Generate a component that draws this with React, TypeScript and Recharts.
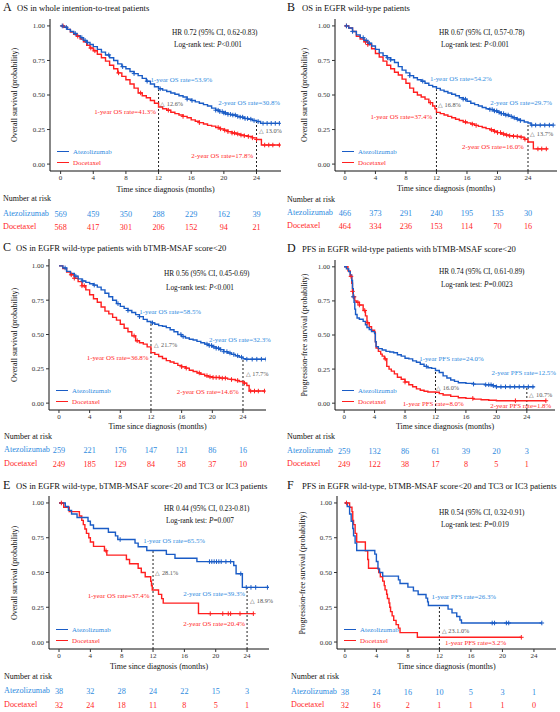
import React from 'react';
import { ComposedChart, Line, Scatter, XAxis, YAxis, ReferenceLine, ReferenceDot } from 'recharts';

const FONT = '"Liberation Serif", "Times New Roman", serif';
const BLUE = '#1a5cc6';
const BLUE_TXT = '#2f8be0';
const RED = '#ff1f1f';
const GREY = '#555555';

const MONTH_TICKS = [0, 4, 8, 12, 16, 20, 24];
const SURV_TICKS = [0, 0.25, 0.5, 0.75, 1];
const ARMS = ['Atezolizumab', 'Docetaxel'];

type Pt = [number, number];

// ---- A: OS, ITT
const atezoA: Pt[] = [[0,1],[0.4,0.99],[0.8,0.975],[1.2,0.96],[1.6,0.945],[2,0.93],[2.4,0.915],[2.8,0.895],[3.2,0.88],[3.6,0.865],[4,0.85],[4.5,0.83],[5,0.81],[5.5,0.79],[6,0.77],[6.5,0.75],[7,0.725],[7.5,0.705],[8,0.69],[8.5,0.67],[9,0.655],[9.5,0.64],[10,0.62],[10.5,0.6],[11,0.58],[11.5,0.56],[12,0.545],[12.5,0.535],[13,0.525],[13.5,0.515],[14,0.505],[14.5,0.495],[15,0.485],[15.5,0.47],[16,0.46],[16.5,0.45],[17,0.44],[17.5,0.43],[18,0.42],[18.5,0.405],[19,0.39],[19.5,0.38],[20,0.37],[20.5,0.36],[21,0.355],[21.5,0.345],[22,0.34],[22.5,0.33],[23,0.325],[23.5,0.315],[24,0.308],[24.5,0.295],[26.8,0.295]];
const doceA: Pt[] = [[0,1],[0.4,0.99],[0.8,0.975],[1.2,0.955],[1.6,0.94],[2,0.925],[2.4,0.905],[2.8,0.885],[3.2,0.86],[3.6,0.84],[4,0.82],[4.5,0.795],[5,0.77],[5.5,0.745],[6,0.715],[6.5,0.69],[7,0.66],[7.5,0.635],[8,0.61],[8.5,0.58],[9,0.55],[9.5,0.515],[10,0.495],[10.5,0.48],[11,0.46],[11.5,0.44],[12,0.413],[12.5,0.4],[13,0.39],[13.5,0.375],[14,0.365],[14.5,0.355],[15,0.345],[15.5,0.335],[16,0.32],[16.5,0.31],[17,0.3],[17.5,0.29],[18,0.28],[18.5,0.275],[19,0.265],[19.5,0.255],[20,0.245],[20.5,0.235],[21,0.225],[21.5,0.218],[22,0.21],[22.5,0.205],[23,0.2],[23.5,0.19],[24,0.178],[24.6,0.138],[26.9,0.138]];
const atezoCensA = [0.2,0.7,1.8,2.6,3,3.3,5.9,7.6,9,10.6,12.2,15.5,16.1,19,19.3,19.5,19.8,20,20.2,20.5,20.8,21.1,21.4,21.7,22,22.3,22.6,22.9,23.3,23.7,24.2,24.8,25.3,25.8,26.3,26.8];
const doceCensA = [0.3,2.1,3.7,4.2,7.1,9.8,13.2,15,17,19.3,19.6,20.1,20.5,21,21.3,21.7,22.1,22.5,23,23.5,24,25,25.5,26,26.8];
const riskAtezoA = [569, 459, 350, 288, 229, 162, 39];
const riskDoceA = [568, 417, 301, 206, 152, 94, 21];

// ---- B: OS, EGFR wild-type
const atezoB: Pt[] = [[0,1],[0.5,0.985],[1,0.96],[1.5,0.935],[2,0.915],[2.5,0.895],[3,0.875],[3.5,0.855],[4,0.83],[4.5,0.805],[5,0.785],[5.5,0.77],[6,0.755],[6.5,0.735],[7,0.705],[7.5,0.68],[8,0.66],[8.5,0.64],[9,0.625],[9.5,0.61],[10,0.6],[10.5,0.585],[11,0.57],[11.5,0.56],[12,0.548],[12.5,0.535],[13,0.525],[13.5,0.515],[14,0.505],[14.5,0.495],[15,0.48],[15.5,0.47],[16,0.455],[16.5,0.44],[17,0.43],[17.5,0.42],[18,0.41],[18.5,0.4],[19,0.395],[19.5,0.385],[20,0.375],[20.5,0.365],[21,0.355],[21.5,0.345],[22,0.335],[22.5,0.325],[23,0.315],[23.5,0.305],[24,0.297],[24.4,0.282],[27.3,0.282]];
const doceB: Pt[] = [[0,1],[0.5,0.985],[1,0.96],[1.5,0.925],[2,0.905],[2.5,0.885],[3,0.865],[3.5,0.835],[4,0.8],[4.5,0.775],[5,0.745],[5.5,0.715],[6,0.69],[6.5,0.665],[7,0.645],[7.5,0.615],[8,0.585],[8.5,0.55],[9,0.52],[9.5,0.5],[10,0.485],[10.5,0.47],[11,0.445],[11.5,0.42],[11.8,0.4],[12,0.374],[12.5,0.365],[13,0.355],[13.5,0.345],[14,0.335],[14.5,0.325],[15,0.315],[15.5,0.305],[16,0.298],[16.5,0.29],[17,0.28],[17.5,0.273],[18,0.265],[18.5,0.257],[19,0.248],[19.5,0.238],[20,0.228],[20.5,0.218],[21,0.21],[21.5,0.205],[22,0.202],[22.5,0.2],[23,0.195],[23.5,0.18],[24,0.16],[24.7,0.11],[26.6,0.11]];
const atezoCensB = [0.2,1,2.4,2.8,3.2,5.6,6,8.5,10.2,15.5,15.8,19,19.3,19.6,19.9,20.2,20.5,20.8,21.1,21.4,21.8,22.2,22.6,23,24.5,25,25.6,26.2,26.8,27.3];
const doceCensB = [0.2,2.7,3,11.2,15.8,16.7,17.2,19.2,19.6,20,20.4,20.8,21.2,21.6,22.1,22.6,23.1,23.6,25.3,25.8,26.4];
const riskAtezoB = [466, 373, 291, 240, 195, 135, 30];
const riskDoceB = [464, 334, 236, 153, 114, 70, 16];

// ---- C: OS, EGFR wild-type, bTMB-MSAF<20
const atezoC: Pt[] = [[0,1],[0.5,0.985],[1,0.96],[1.5,0.945],[2,0.925],[2.5,0.905],[3,0.89],[3.5,0.88],[4,0.87],[4.5,0.86],[5,0.845],[5.5,0.825],[6,0.8],[6.5,0.775],[7,0.75],[7.5,0.725],[8,0.705],[8.5,0.69],[9,0.675],[9.5,0.66],[10,0.645],[10.5,0.63],[11,0.61],[11.5,0.595],[12,0.585],[12.5,0.575],[13,0.565],[13.5,0.56],[14,0.55],[14.5,0.535],[15,0.52],[15.5,0.5],[16,0.485],[16.5,0.475],[17,0.465],[17.5,0.46],[18,0.45],[18.5,0.44],[19,0.43],[19.5,0.42],[20,0.41],[20.5,0.4],[21,0.39],[21.5,0.375],[22,0.365],[22.5,0.355],[23,0.345],[23.5,0.335],[24,0.323],[24.3,0.32],[27,0.32]];
const doceC: Pt[] = [[0,1],[0.5,0.98],[1,0.955],[1.5,0.935],[2,0.91],[2.5,0.885],[3,0.855],[3.5,0.825],[4,0.79],[4.5,0.76],[5,0.735],[5.5,0.7],[6,0.67],[6.5,0.65],[7,0.625],[7.5,0.605],[8,0.575],[8.5,0.545],[9,0.52],[9.5,0.49],[10,0.455],[10.5,0.44],[11,0.43],[11.5,0.41],[12,0.368],[12.5,0.355],[13,0.34],[13.5,0.325],[14,0.31],[14.5,0.3],[15,0.29],[15.5,0.275],[16,0.265],[16.5,0.255],[17,0.24],[17.5,0.23],[18,0.22],[18.5,0.21],[19,0.2],[19.5,0.192],[20,0.187],[21,0.182],[22,0.175],[22.5,0.172],[23,0.165],[23.5,0.158],[24,0.146],[24.5,0.128],[24.8,0.088],[26.8,0.088]];
const atezoCensC = [0.8,2.2,3.1,4.6,7.7,9,10.5,12.2,15.9,16.2,19.3,19.6,19.9,20.2,20.5,20.8,21.1,21.5,21.9,22.3,22.8,23.3,23.8,24.5,25.2,25.8,26.4,27];
const doceCensC = [1.6,2,3,3.3,9.8,10.2,16,16.6,18.3,19.3,19.7,20.1,20.5,20.9,21.3,21.7,22.5,23.3,24.2,25,25.5,26,26.8];
const riskAtezoC = [259, 221, 176, 147, 121, 86, 16];
const riskDoceC = [249, 185, 129, 84, 58, 37, 10];

// ---- D: PFS, EGFR wild-type, bTMB-MSAF<20
const atezoD: Pt[] = [[0,1],[0.3,0.985],[0.6,0.965],[0.8,0.94],[1,0.9],[1.1,0.84],[1.2,0.78],[1.3,0.74],[1.4,0.69],[1.5,0.65],[1.7,0.625],[2,0.615],[2.5,0.6],[2.8,0.575],[3,0.555],[3.3,0.54],[3.6,0.525],[4,0.51],[4.1,0.45],[4.2,0.415],[4.5,0.4],[5,0.39],[5.5,0.38],[6,0.375],[6.5,0.37],[7,0.355],[7.5,0.345],[8,0.33],[8.5,0.325],[9,0.31],[9.5,0.3],[10,0.285],[10.5,0.27],[11,0.26],[11.5,0.255],[12,0.24],[12.5,0.225],[13,0.2],[13.5,0.185],[14,0.17],[14.5,0.16],[15,0.15],[16,0.145],[17,0.14],[18.5,0.135],[19.5,0.128],[20,0.12],[25,0.12]];
const doceD: Pt[] = [[0,1],[0.5,0.97],[0.8,0.93],[1,0.88],[1.1,0.82],[1.2,0.78],[1.4,0.75],[1.6,0.74],[2,0.72],[2.5,0.68],[2.8,0.64],[3,0.59],[3.3,0.56],[3.6,0.535],[4,0.52],[4.1,0.45],[4.2,0.405],[4.5,0.38],[4.8,0.36],[5,0.345],[5.3,0.325],[5.6,0.27],[5.9,0.25],[6.2,0.235],[6.6,0.215],[7,0.19],[7.5,0.175],[8,0.155],[8.5,0.135],[9,0.12],[9.5,0.105],[10,0.095],[10.5,0.087],[11,0.082],[12,0.08],[12.5,0.07],[13,0.06],[14,0.05],[15,0.04],[16,0.035],[17,0.03],[18,0.025],[19,0.022],[20,0.018],[26.5,0.018]];
const atezoCensD = [1.2,10.8,17,18.6,19,19.3,19.6,20,20.6,21.2,21.8,22.4,23,23.6,24.2,24.8];
const doceCensD = [0.9,1.1,1.3,1.8,2,2.7,3.1,5.4,8,16.9,22.5,26.5];
const riskAtezoD = [259, 132, 86, 61, 39, 20, 3];
const riskDoceD = [249, 122, 38, 17, 8, 5, 1];

// ---- E: OS, EGFR wt, bTMB-MSAF<20, TC3/IC3
const atezoE: Pt[] = [[0,1],[0.8,0.974],[1.2,0.947],[1.6,0.921],[2.3,0.895],[3.7,0.868],[4,0.842],[4.4,0.816],[6.3,0.789],[7.2,0.763],[7.5,0.737],[9.7,0.711],[10.1,0.685],[11.2,0.658],[13.7,0.63],[14.8,0.602],[17.6,0.578],[22.3,0.55],[22.6,0.491],[23.4,0.393],[26.8,0.393]];
const doceE: Pt[] = [[0,1],[0.6,0.969],[1.3,0.938],[2.6,0.906],[2.9,0.875],[3.1,0.844],[3.3,0.813],[3.5,0.781],[3.8,0.75],[4,0.719],[4.4,0.688],[5.8,0.656],[6.1,0.625],[8.6,0.594],[9,0.563],[10.1,0.531],[10.5,0.5],[11,0.469],[11.7,0.437],[11.8,0.405],[11.9,0.374],[12.7,0.343],[13.1,0.312],[13.3,0.28],[17.8,0.204],[24.8,0.204]];
const atezoCensE = [7.8,19.2,19.5,19.8,20.1,20.4,20.7,21.3,21.9,23.2,23.9,24.5,25.1,26.6];
const doceCensE = [0.3,6,19.3,20.9,21.6,21.9,23.1,24.8];
const riskAtezoE = [38, 32, 28, 24, 22, 15, 3];
const riskDoceE = [32, 24, 18, 11, 8, 5, 1];

// ---- F: PFS, EGFR wt, bTMB-MSAF<20, TC3/IC3
const atezoF: Pt[] = [[0,1],[0.3,0.974],[0.6,0.921],[0.8,0.868],[1,0.816],[1.1,0.763],[1.3,0.711],[1.5,0.658],[3.8,0.632],[4,0.579],[4.2,0.526],[4.4,0.5],[4.8,0.474],[6.8,0.447],[7,0.421],[8,0.395],[8.7,0.368],[9.3,0.342],[10.3,0.316],[10.5,0.289],[10.6,0.263],[13.1,0.237],[13.6,0.21],[14.2,0.184],[14.6,0.158],[14.8,0.137],[25,0.137]];
const doceF: Pt[] = [[0,1],[0.6,0.969],[0.9,0.938],[1,0.875],[1.1,0.844],[1.3,0.781],[1.5,0.719],[2.6,0.656],[2.9,0.594],[3,0.531],[4.3,0.5],[4.5,0.469],[4.8,0.438],[5,0.406],[5.1,0.375],[5.3,0.344],[5.4,0.313],[5.6,0.281],[5.7,0.25],[5.8,0.219],[6,0.188],[6.2,0.156],[6.5,0.125],[6.8,0.1],[7,0.068],[9.2,0.034],[22.4,0.034]];
const atezoCensF = [18.7,19,20.5,20.8,25];
const doceCensF = [0.2,22.4];
const riskAtezoF = [38, 24, 16, 10, 5, 3, 1];
const riskDoceF = [32, 16, 2, 1, 1, 1, 0];

const toPts = (a: Pt[]) => a.map(([t, s]) => ({ t, s }));
// value of a step curve at time t (last step at or before t)
const stepAt = (a: Pt[], t: number) => {
  let s = a[0][1];
  for (const [ti, si] of a) if (ti <= t) s = si;
  return s;
};
const cens = (a: Pt[], times: number[]) => times.map((t) => ({ t, s: stepAt(a, t) }));

type Note = { x: number; y: number; text: string; color: string; start?: boolean };

const OS_Y = 'Overall survival (probability)';
const PFS_Y = 'Progression-free survival (probability)';

const panels = [
  {
    letter: 'A', title: 'OS in whole intention-to-treat patients', yTitle: OS_Y,
    hr: 'HR 0.72 (95% CI, 0.62-0.83)', p: '<0.001',
    atezo: atezoA, doce: doceA, atezoCens: atezoCensA, doceCens: doceCensA, riskA: riskAtezoA, riskD: riskDoceA,
    lines: [[12, 0.539], [24, 0.308]],
    notes: [
      { x: 14.8, y: 0.615, text: '1-year OS rate=53.9%', color: BLUE_TXT },
      { x: 7.9, y: 0.38, text: '1-year OS rate=41.3%', color: RED },
      { x: 12.2, y: 0.44, text: '\u25B3 12.6%', color: GREY, start: true },
      { x: 23.1, y: 0.445, text: '2-year OS rate=30.8%', color: BLUE_TXT },
      { x: 24.3, y: 0.242, text: '\u25B3 13.0%', color: GREY, start: true },
      { x: 19.8, y: 0.06, text: '2-year OS rate=17.8%', color: RED },
    ] as Note[],
    cx: 0, cw: 290, axisX: 50, plotRight: 281, plotTop: 19, plotBottom: 171, xMin: -1.3, xMax: 27,
    titleY: 7, letterX: 3, titleX: 17, hrX: 172, hrY: 33, lrY: 45, xTitleY: 190, yTitleX: 15,
    narY: 199, rowY: [214, 227], rowX: 3,
  },
  {
    letter: 'B', title: 'OS in EGFR wild-type patients', yTitle: OS_Y,
    hr: 'HR 0.67 (95% CI, 0.57-0.78)', p: '<0.001',
    atezo: atezoB, doce: doceB, atezoCens: atezoCensB, doceCens: doceCensB, riskA: riskAtezoB, riskD: riskDoceB,
    lines: [[12, 0.542], [24, 0.297]],
    notes: [
      { x: 15.2, y: 0.62, text: '1-year OS rate=54.2%', color: BLUE_TXT },
      { x: 7.4, y: 0.342, text: '1-year OS rate=37.4%', color: RED },
      { x: 12.2, y: 0.432, text: '\u25B3 16.8%', color: GREY, start: true },
      { x: 23.1, y: 0.447, text: '2-year OS rate=29.7%', color: BLUE_TXT },
      { x: 24.3, y: 0.22, text: '\u25B3 13.7%', color: GREY, start: true },
      { x: 19.4, y: 0.124, text: '2-year OS rate=16.0%', color: RED },
    ] as Note[],
    cx: 280, cw: 280, axisX: 335, plotRight: 557, plotTop: 19, plotBottom: 171, xMin: -1.3, xMax: 27.8,
    titleY: 7, letterX: 287, titleX: 302, hrX: 439, hrY: 33, lrY: 45, xTitleY: 189, yTitleX: 305,
    narY: 200, rowY: [213, 226], rowX: 287,
  },
  {
    letter: 'C', title: 'OS in EGFR wild-type patients with bTMB-MSAF score<20', yTitle: OS_Y,
    hr: 'HR 0.56 (95% CI, 0.45-0.69)', p: '<0.001',
    atezo: atezoC, doce: doceC, atezoCens: atezoCensC, doceCens: doceCensC, riskA: riskAtezoC, riskD: riskDoceC,
    lines: [[12, 0.585], [24, 0.323]],
    notes: [
      { x: 14.5, y: 0.666, text: '1-year OS rate=58.5%', color: BLUE_TXT },
      { x: 7.65, y: 0.329, text: '1-year OS rate=36.8%', color: RED },
      { x: 12.45, y: 0.422, text: '\u25B3 21.7%', color: GREY, start: true },
      { x: 23.6, y: 0.466, text: '2-year OS rate=32.3%', color: BLUE_TXT },
      { x: 24.35, y: 0.215, text: '\u25B3 17.7%', color: GREY, start: true },
      { x: 19.4, y: 0.088, text: '2-year OS rate=14.6%', color: RED },
    ] as Note[],
    cx: 0, cw: 280, axisX: 49, plotRight: 266, plotTop: 259, plotBottom: 410, xMin: -1.3, xMax: 27,
    titleY: 247, letterX: 3, titleX: 16, hrX: 164, hrY: 274, lrY: 288, xTitleY: 427, yTitleX: 15,
    narY: 437, rowY: [450, 464], rowX: 4,
  },
  {
    letter: 'D', title: 'PFS in EGFR wild-type patients with bTMB-MSAF score<20', yTitle: PFS_Y,
    hr: 'HR 0.74 (95% CI, 0.61-0.89)', p: '=0.0023',
    atezo: atezoD, doce: doceD, atezoCens: atezoCensD, doceCens: doceCensD, riskA: riskAtezoD, riskD: riskDoceD,
    lines: [[12, 0.24], [24, 0.125]],
    notes: [
      { x: 14.1, y: 0.33, text: '1-year PFS rate=24.0%', color: BLUE_TXT },
      { x: 11.7, y: -0.002, text: '1-year PFS rate=8.0%', color: RED },
      { x: 12.1, y: 0.11, text: '\u25B3 16.0%', color: GREY, start: true },
      { x: 23.6, y: 0.222, text: '2-year PFS rate=12.5%', color: BLUE_TXT },
      { x: 24.35, y: 0.064, text: '\u25B3 10.7%', color: GREY, start: true },
      { x: 23.2, y: -0.015, text: '2-year PFS rate=1.8%', color: RED },
    ] as Note[],
    cx: 280, cw: 280, axisX: 335, plotRight: 555, plotTop: 260, plotBottom: 410, xMin: -1.2, xMax: 27.7,
    titleY: 248, letterX: 287, titleX: 302, hrX: 439, hrY: 272, lrY: 285, xTitleY: 427, yTitleX: 305,
    narY: 437, rowY: [451, 464], rowX: 287,
  },
  {
    letter: 'E', title: 'OS in EGFR wild-type, bTMB-MSAF score<20 and TC3 or IC3 patients', yTitle: OS_Y,
    hr: 'HR 0.44 (95% CI, 0.23-0.81)', p: '=0.007',
    atezo: atezoE, doce: doceE, atezoCens: atezoCensE, doceCens: doceCensE, riskA: riskAtezoE, riskD: riskDoceE,
    lines: [[12, 0.655], [24, 0.393]],
    notes: [
      { x: 14.7, y: 0.728, text: '1-year OS rate=65.5%', color: BLUE_TXT },
      { x: 7.6, y: 0.332, text: '1-year OS rate=37.4%', color: RED },
      { x: 12.3, y: 0.495, text: '\u25B3 28.1%', color: GREY, start: true },
      { x: 19.8, y: 0.346, text: '2-year OS rate=39.3%', color: BLUE_TXT },
      { x: 24.4, y: 0.298, text: '\u25B3 18.9%', color: GREY, start: true },
      { x: 19.8, y: 0.13, text: '2-year OS rate=20.4%', color: RED },
    ] as Note[],
    cx: 0, cw: 280, axisX: 49, plotRight: 269, plotTop: 496, plotBottom: 649, xMin: -1.28, xMax: 26.8,
    titleY: 485, letterX: 3, titleX: 16, hrX: 164, hrY: 509, lrY: 521, xTitleY: 667, yTitleX: 15,
    narY: 677, rowY: [691, 705], rowX: 4,
  },
  {
    letter: 'F', title: 'PFS in EGFR wild-type, bTMB-MSAF score<20 and TC3 or IC3 patients', yTitle: PFS_Y,
    hr: 'HR 0.54 (95% CI, 0.32-0.91)', p: '=0.019',
    atezo: atezoF, doce: doceF, atezoCens: atezoCensF, doceCens: doceCensF, riskA: riskAtezoF, riskD: riskDoceF,
    lines: [[12, 0.263]],
    notes: [
      { x: 15.1, y: 0.327, text: '1-year PFS rate=26.3%', color: BLUE_TXT },
      { x: 12.3, y: 0.082, text: '\u25B3 23.1.0%', color: GREY, start: true },
      { x: 16.6, y: -0.005, text: '1-year PFS rate=3.2%', color: RED },
    ] as Note[],
    cx: 280, cw: 280, axisX: 337, plotRight: 556, plotTop: 496, plotBottom: 649, xMin: -1.0, xMax: 26.8,
    titleY: 485, letterX: 287, titleX: 302, hrX: 439, hrY: 513, lrY: 525, xTitleY: 667, yTitleX: 303,
    narY: 677, rowY: [692, 705], rowX: 291,
  },
];

type Cfg = (typeof panels)[number];

const Txt = ({ x, y, size, color = '#111', center, children, style }: any) => (
  <div
    style={{
      position: 'absolute', left: x, top: y, fontSize: size, color, lineHeight: 1, whiteSpace: 'nowrap',
      transform: center ? 'translate(-50%, -50%)' : 'translateY(-50%)', ...style,
    }}
  >
    {children}
  </div>
);

const plus = (color: string) => (p: any) => (
  <path d={`M${p.cx - 2.3},${p.cy}h4.6M${p.cx},${p.cy - 2.3}v4.6`} stroke={color} strokeWidth={1} fill="none" />
);

function Panel({ cfg }: { cfg: Cfg }) {
  const plotH = cfg.plotBottom - cfg.plotTop;
  const xAxisH = 62;
  const rel = (pageY: number) => pageY - cfg.plotTop;

  const tick = (p: any) => {
    const i = MONTH_TICKS.indexOf(p.payload.value);
    return (
      <g>
        <text x={p.x} y={plotH + 7} textAnchor="middle" dominantBaseline="central" fontSize={7} fill="#333">
          {p.payload.value}
        </text>
        <text x={p.x} y={rel(cfg.rowY[0])} textAnchor="middle" dominantBaseline="central" fontSize={8.2} fill={BLUE_TXT}>
          {cfg.riskA[i]}
        </text>
        <text x={p.x} y={rel(cfg.rowY[1])} textAnchor="middle" dominantBaseline="central" fontSize={8.2} fill={RED}>
          {cfg.riskD[i]}
        </text>
      </g>
    );
  };

  const midX = (cfg.axisX + cfg.plotRight) / 2;
  const midY = (cfg.plotTop + cfg.plotBottom) / 2;

  return (
    <>
      <div style={{ position: 'absolute', left: cfg.cx, top: cfg.plotTop }}>
        <ComposedChart
          width={cfg.cw}
          height={plotH + xAxisH}
          margin={{ top: 0, right: cfg.cx + cfg.cw - cfg.plotRight, bottom: 0, left: 0 }}
        >
          <XAxis
            type="number"
            dataKey="t"
            domain={[cfg.xMin, cfg.xMax]}
            allowDataOverflow
            ticks={MONTH_TICKS}
            interval={0}
            height={xAxisH}
            tickSize={3}
            axisLine={{ stroke: '#111', strokeWidth: 1 }}
            tickLine={{ stroke: '#333' }}
            tick={tick}
          />
          <YAxis
            type="number"
            dataKey="s"
            domain={[-0.05, 1.05]}
            allowDataOverflow
            ticks={SURV_TICKS}
            interval={0}
            width={cfg.axisX - cfg.cx}
            tickSize={3}
            tickMargin={2}
            axisLine={{ stroke: '#111', strokeWidth: 1 }}
            tickLine={{ stroke: '#333' }}
            tick={{ fontSize: 7, fill: '#333' }}
            tickFormatter={(v: number) => v.toFixed(2)}
          />
          {cfg.lines.map(([x, y]) => (
            <ReferenceLine
              key={`l${x}`}
              segment={[{ x, y: -0.05 }, { x, y }]}
              stroke="#222"
              strokeDasharray="2 2"
              strokeWidth={1}
            />
          ))}
          <Line data={toPts(cfg.doce)} dataKey="s" type="stepAfter" stroke={RED} strokeWidth={1.4}
            dot={false} activeDot={false} isAnimationActive={false} />
          <Line data={toPts(cfg.atezo)} dataKey="s" type="stepAfter" stroke={BLUE} strokeWidth={1.4}
            dot={false} activeDot={false} isAnimationActive={false} />
          <Scatter data={cens(cfg.doce, cfg.doceCens)} dataKey="s" shape={plus(RED)} isAnimationActive={false} />
          <Scatter data={cens(cfg.atezo, cfg.atezoCens)} dataKey="s" shape={plus(BLUE)} isAnimationActive={false} />
          {cfg.notes.map((n, k) => (
            <ReferenceDot
              key={`n${k}`}
              x={n.x}
              y={n.y}
              r={0}
              fill="none"
              stroke="none"
              ifOverflow="visible"
              label={{
                value: n.text,
                position: n.start ? 'right' : 'center',
                offset: 0,
                fill: n.color,
                fontSize: n.start ? 6.3 : 6.9,
              }}
            />
          ))}
        </ComposedChart>
      </div>

      <Txt x={cfg.letterX} y={cfg.titleY} size={12}>{cfg.letter}</Txt>
      <Txt x={cfg.titleX} y={cfg.titleY + 0.5} size={8.6}>{cfg.title}</Txt>
      <Txt x={cfg.hrX} y={cfg.hrY} size={7.3}>{cfg.hr}</Txt>
      <Txt x={cfg.hrX + 2} y={cfg.lrY} size={7.3}>
        Log-rank test: <i>P</i>{cfg.p}
      </Txt>

      {[BLUE, RED].map((c, k) => (
        <React.Fragment key={c}>
          <div
            style={{
              position: 'absolute', left: cfg.axisX + 7, top: cfg.plotBottom - 20 + k * 11,
              width: 12, borderTop: `1.4px solid ${c}`,
            }}
          />
          <Txt x={cfg.axisX + 23} y={cfg.plotBottom - 19.5 + k * 11} size={6.9} color={k ? RED : BLUE_TXT}>
            {ARMS[k]}
          </Txt>
        </React.Fragment>
      ))}

      <Txt x={midX} y={cfg.xTitleY} size={8} center>Time since diagnosis (months)</Txt>
      <Txt
        x={cfg.yTitleX}
        y={midY}
        size={8}
        style={{ transform: 'translate(-50%, -50%) rotate(-90deg)' }}
      >
        {cfg.yTitle}
      </Txt>

      <Txt x={cfg.rowX} y={cfg.narY} size={8}>Number at risk</Txt>
      <Txt x={cfg.rowX} y={cfg.rowY[0]} size={8.2} color={BLUE_TXT}>{ARMS[0]}</Txt>
      <Txt x={cfg.rowX} y={cfg.rowY[1]} size={8.2} color={RED}>{ARMS[1]}</Txt>
    </>
  );
}

export default function App() {
  return (
    <div
      style={{
        position: 'absolute', left: 0, top: 0, width: 560, height: 712, background: '#fff',
        fontFamily: FONT, color: '#111', overflow: 'hidden',
      }}
    >
      {panels.map((cfg) => (
        <Panel key={cfg.letter} cfg={cfg} />
      ))}
    </div>
  );
}
